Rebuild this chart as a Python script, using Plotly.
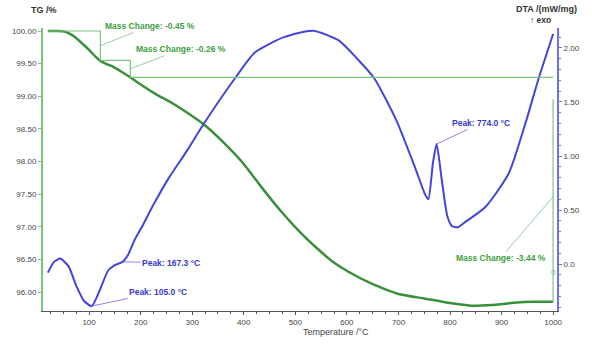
import plotly.graph_objects as go

# ---- data ----
tg_temp = [20, 40, 53, 62, 72, 85, 100, 112, 122, 135, 147, 162, 180, 200, 230, 260, 286, 324,
           361, 398, 435, 473, 510, 542, 570, 603, 650, 700, 750, 800, 840, 880, 930, 960, 1000]
tg_val = [100.0, 100.0, 99.99, 99.96, 99.91, 99.82, 99.71, 99.61, 99.54, 99.49, 99.45, 99.38, 99.29,
          99.18, 99.03, 98.90, 98.77, 98.56, 98.29, 97.98, 97.60, 97.23, 96.91, 96.67, 96.48, 96.31,
          96.12, 95.97, 95.90, 95.83, 95.79, 95.80, 95.84, 95.85, 95.85]

dta_temp = [20, 32, 44, 60, 75, 90, 105, 120, 137, 150, 165, 175, 188, 202, 225, 255, 290, 324,
            383, 422, 478, 534, 584, 620, 653, 696, 734, 752, 758, 767, 774, 784, 795, 804,
            815, 827, 869, 914, 948, 972, 1000]
dta_val = [-0.08, 0.02, 0.05, -0.02, -0.20, -0.34, -0.39, -0.25, -0.06, -0.01, 0.02, 0.08, 0.22,
           0.34, 0.55, 0.80, 1.05, 1.31, 1.72, 1.96, 2.10, 2.16, 2.07, 1.90, 1.72, 1.33, 0.87,
           0.64, 0.60, 0.94, 1.11, 0.78, 0.44, 0.35, 0.34, 0.38, 0.53, 0.84, 1.33, 1.72, 2.13]

# mass change steps
step_temps = [20, 122, 180, 1000]
step_levels = [100.0, 99.55, 99.29, 95.85]
mass_changes = [-0.45, -0.26, -3.44]
last_step_top = 98.95

# peaks (temperature, DTA value)
peak_temps = [105.0, 167.3, 774.0]
peak_vals = [-0.39, 0.02, 1.11]

x_ticks = [100, 200, 300, 400, 500, 600, 700, 800, 900, 1000]
tg_ticks = [96.0, 96.5, 97.0, 97.5, 98.0, 98.5, 99.0, 99.5, 100.0]
dta_ticks = [0.0, 0.5, 1.0, 1.5, 2.0]
dta_ticktext = ["0.0", "0.50", "1.00", "1.50", "2.00"]

GREEN = "#3a8f3a"
GREEN_T = "#3da03d"
GREEN_L = "#7cc47c"
BLUE = "#4444dd"
BLUE_T = "#3838d0"
FONT = "Liberation Sans, Arial, sans-serif"

W, H = 592, 359
L, R, T, B = 32, 25, 28, 48
PW, PH = W - L - R, H - T - B


def px(xp):
    return (xp - L) / PW


def py(yp):
    return (H - B - yp) / PH


fig = go.Figure()
fig.add_trace(go.Scatter(x=dta_temp, y=dta_val, yaxis="y2", mode="lines",
                         line=dict(color=BLUE, width=2, shape="spline", smoothing=0.6),
                         hoverinfo="skip", showlegend=False))
fig.add_trace(go.Scatter(x=tg_temp, y=tg_val, mode="lines",
                         line=dict(color=GREEN, width=2.5, shape="spline", smoothing=0.5),
                         hoverinfo="skip", showlegend=False))

shapes = []
lw = dict(color=GREEN_L, width=1.2)
for i in range(2):
    shapes.append(dict(type="line", xref="x", yref="y", x0=step_temps[i], x1=step_temps[i + 1],
                       y0=step_levels[i], y1=step_levels[i], line=lw))
    shapes.append(dict(type="line", xref="x", yref="y", x0=step_temps[i + 1], x1=step_temps[i + 1],
                       y0=step_levels[i], y1=step_levels[i + 1], line=lw))
shapes.append(dict(type="line", xref="x", yref="y", x0=step_temps[2], x1=step_temps[3],
                   y0=step_levels[2], y1=step_levels[2], line=lw))
shapes.append(dict(type="line", xref="x", yref="y", x0=step_temps[3], x1=step_temps[3],
                   y0=last_step_top, y1=step_levels[3], line=lw))

annotations = []
mc_text_pos = [(218, 100.077), (279, 99.72), (898, 96.52)]
mc_points = [(step_temps[1], (step_levels[0] + step_levels[1]) / 2),
             (step_temps[2], (step_levels[1] + step_levels[2]) / 2),
             (step_temps[3], 97.46)]
for mc, (tx, ty), (ppx, ppy) in zip(mass_changes, mc_text_pos, mc_points):
    annotations.append(dict(x=ppx, y=ppy, xref="x", yref="y", ax=tx, ay=ty, axref="x", ayref="y",
                            text=f"<b>Mass Change: {mc:.2f} %</b>", showarrow=True, arrowhead=0,
                            arrowwidth=0.8, arrowcolor=GREEN_L,
                            font=dict(family=FONT, size=8.5, color=GREEN_T)))
pk_text_pos = [(234, -0.26), (259, 0.01), (860, 1.305)]
for pt, pv, (tx, ty) in zip(peak_temps, peak_vals, pk_text_pos):
    annotations.append(dict(x=pt, y=pv, xref="x", yref="y2", ax=tx, ay=ty, axref="x", ayref="y2",
                            text=f"<b>Peak: {pt:.1f} °C</b>", showarrow=True, arrowhead=0,
                            arrowwidth=0.8, arrowcolor="#6a6ae0",
                            font=dict(family=FONT, size=8.5, color=BLUE_T)))
annotations.append(dict(x=1000, y=96.3, xref="x", yref="y", text="(!)", showarrow=False,
                        font=dict(family=FONT, size=5, color="#6a9a6a")))
annotations += [
    dict(x=px(17), y=py(10), xref="paper", yref="paper", text="<b>TG /%</b>", showarrow=False,
         xanchor="left", yanchor="middle", font=dict(family=FONT, size=9, color="#333")),
    dict(x=px(590), y=py(9), xref="paper", yref="paper", text="<b>DTA /(mW/mg)</b>", showarrow=False,
         xanchor="right", yanchor="middle", font=dict(family=FONT, size=9, color="#333")),
    dict(x=px(550), y=py(20), xref="paper", yref="paper", text="<b>↑ exo</b>", showarrow=False,
         xanchor="center", yanchor="middle", font=dict(family=FONT, size=8.5, color="#333")),
    dict(x=px(337), y=py(332), xref="paper", yref="paper", text="Temperature /°C", showarrow=False,
         xanchor="center", yanchor="middle", font=dict(family=FONT, size=9, color="#444")),
]

fig.update_layout(
    width=W, height=H,
    margin=dict(l=L, r=R, t=T, b=B),
    paper_bgcolor="white", plot_bgcolor="white",
    shapes=shapes, annotations=annotations,
    xaxis=dict(range=[10.6, 1007.5], tickvals=x_ticks, showgrid=False, zeroline=False,
               showline=True, linecolor="#555", linewidth=1, ticks="outside", ticklen=3,
               tickcolor="#555", minor=dict(dtick=25, tick0=0, ticks="outside", ticklen=2, tickcolor="#555"),
               tickfont=dict(family=FONT, size=8, color="#444")),
    yaxis=dict(range=[95.709, 100.046], tickvals=tg_ticks, tickformat=".2f", showgrid=False,
               zeroline=False, showline=True, linecolor=GREEN_L, linewidth=2, ticks="outside",
               ticklen=3, tickcolor=GREEN_L, tickfont=dict(family=FONT, size=8, color="#444")),
    yaxis2=dict(range=[-0.435, 2.185], overlaying="y", side="right", tickvals=dta_ticks,
                ticktext=dta_ticktext, showgrid=False, zeroline=False, showline=True,
                linecolor="#7070f0", linewidth=2, ticks="outside", ticklen=3, tickcolor="#7070f0",
                minor=dict(dtick=0.1, tick0=0, ticks="outside", ticklen=2, tickcolor="#7070f0"),
                tickfont=dict(family=FONT, size=8, color="#444")),
)

fig.write_html("out.html")
